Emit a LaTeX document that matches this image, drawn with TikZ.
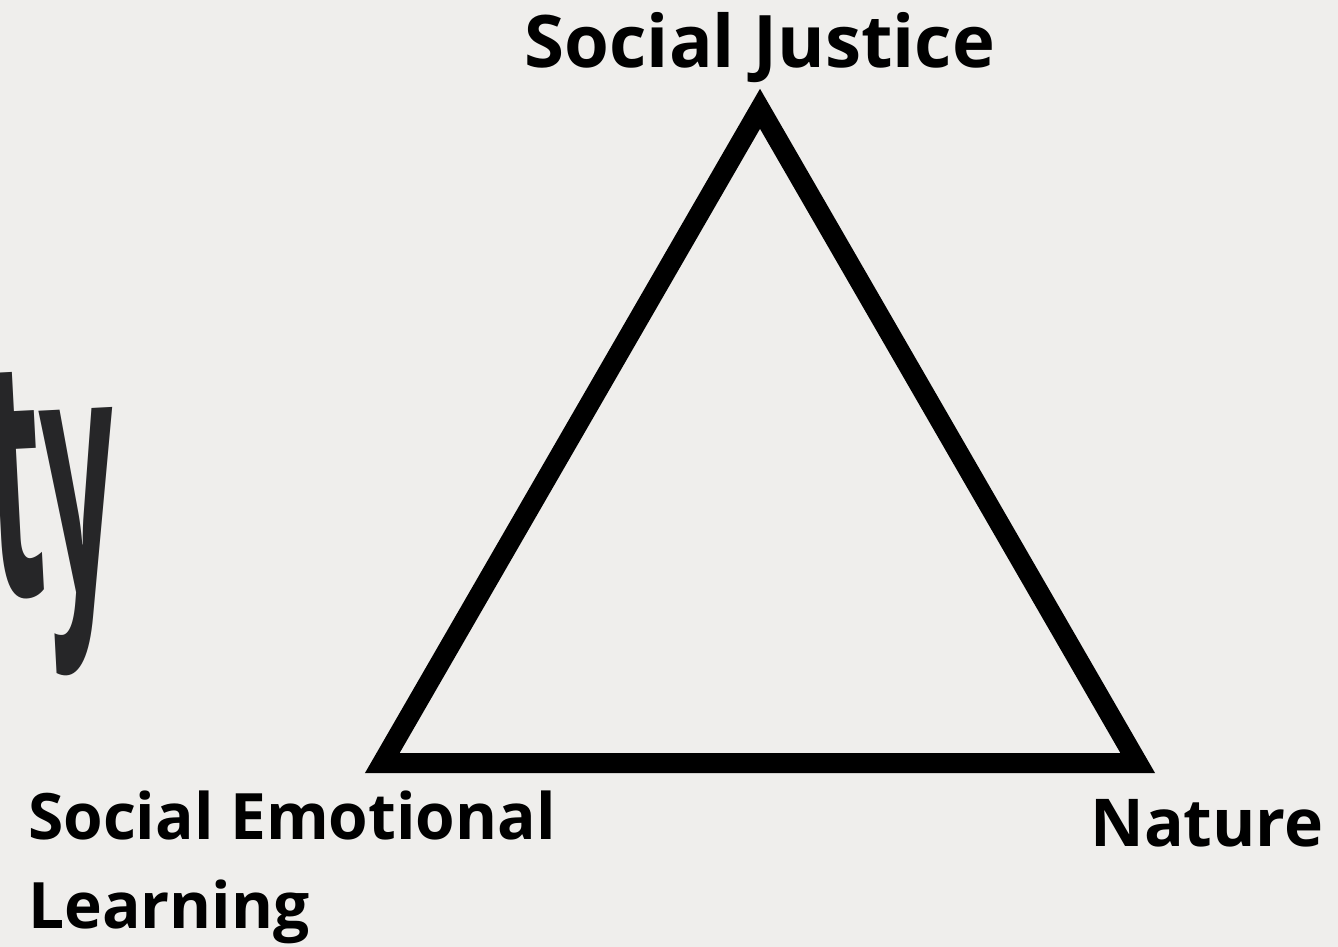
\documentclass[tikz,border=0pt]{standalone}
\usepackage{fontspec}
\setmainfont{Open Sans}
\definecolor{paper}{RGB}{239,238,236}
\definecolor{ink}{RGB}{38,38,40}
\tikzset{
            corner/.style={font=\bfseries\fontsize{64}{89}\selectfont},
            edge/.style={line width=20pt, line join=miter}
        }

\begin{document}
\begin{tikzpicture}[
                    x=1pt, y=-1pt,
                    every node/.style={inner sep=0pt}
                    ]
                \fill[paper] (0,0) rectangle (1338,947);
                \useasboundingbox (0,0) rectangle (1338,947);
                % faded word behind
                \begin{scope}
                    \clip (0,0) rectangle (1338,947);
                    \node[ink, font=\bfseries\fontsize{130}{130}\selectfont, anchor=base west, rotate=3, yscale=2.6] (ty) at (-8,598) {ty};
                \end{scope}
                % triangle
                \coordinate (apex) at (760,108.8);
                \coordinate (bl) at (382.3,763);
                \coordinate (br) at (1137.7,763);
                \draw[edge] (apex) -- (br) -- (bl) -- cycle;
                % corner texts
                \node[corner, font=\bfseries\fontsize{72.5}{89}\selectfont, anchor=base] (justice) at (760,68) {Social Justice};
                \node[corner, anchor=base west, align=left] (sel) at (28,928) {Social Emotional\\Learning};
                \node[corner, font=\bfseries\fontsize{66}{89}\selectfont, anchor=base] (nature) at (1207,846) {Nature};
            \end{tikzpicture}
\end{document}
